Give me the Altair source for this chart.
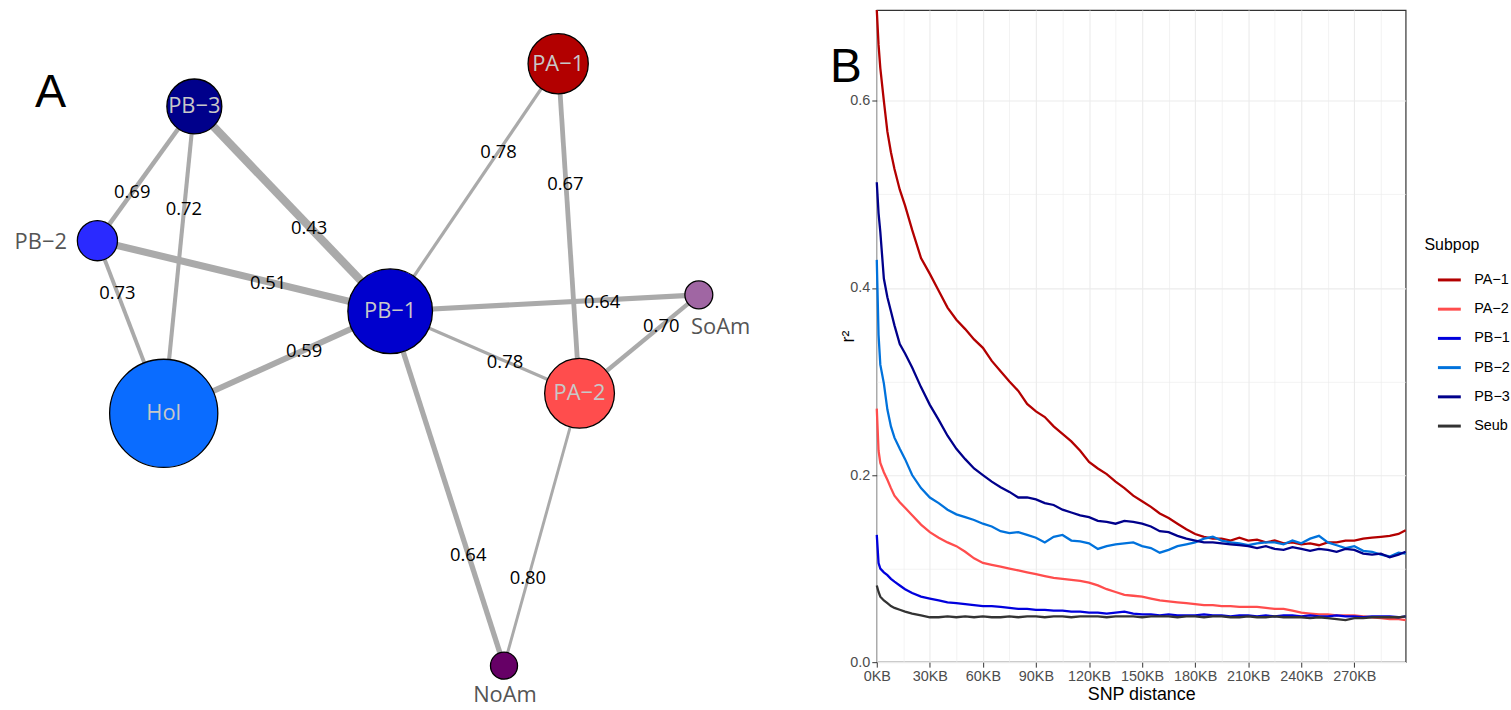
import math
import altair as alt
import pandas as pd

# ---------------- Panel A: LD network between subpopulations ----------------
node_names = ["PA\u22121", "PA\u22122", "PB\u22121", "PB\u22122", "PB\u22123", "Hol", "SoAm", "NoAm"]
node_x = [560.5, 582, 391.5, 97, 194.5, 163.7, 702, 506]
node_y = [62, 393.5, 311, 240, 105, 413.7, 294.5, 667.5]
node_weight = [34.5, 40, 48.5, 23, 31.5, 62, 16, 15.5]
label_x = [560.5, 582, 391.5, 40, 194.5, 163.7, 724, 507]
label_y = [62, 393.5, 311, 241, 105, 413.7, 327, 697]
outside_labels = ["PB\u22122", "SoAm", "NoAm"]
node_colors = ["#B20000", "#FF4D4D", "#0000CD", "#2A2AFF", "#00008B", "#0A6CFF", "#A066A3", "#660066"]

edge_from = ["PB\u22123", "PB\u22123", "PB\u22123", "PB\u22122", "PB\u22122", "Hol", "PA\u22121",
             "PA\u22121", "PB\u22121", "PB\u22121", "PA\u22122", "PB\u22121", "PA\u22122"]
edge_to = ["PB\u22122", "Hol", "PB\u22121", "PB\u22121", "Hol", "PB\u22121", "PB\u22121",
           "PA\u22122", "SoAm", "PA\u22122", "SoAm", "NoAm", "NoAm"]
edge_value = [0.69, 0.72, 0.43, 0.51, 0.73, 0.59, 0.78, 0.67, 0.64, 0.78, 0.70, 0.64, 0.80]
edge_label_x = [132, 184, 310, 268.7, 117, 305, 500.5, 567.8, 604.7, 507, 664.2, 470, 530]
edge_label_y = [191, 208, 227, 282.5, 293, 351, 151, 183.3, 301.5, 362.5, 325.8, 556, 579.5]

# ---------------- Panel B: LD decay ----------------
subpops = ["PA\u22121", "PA\u22122", "PB\u22121", "PB\u22122", "PB\u22123", "Seub"]
line_colors = ["#B30000", "#FF4D4D", "#0000DD", "#0072DC", "#00008B", "#333333"]

dist_kb = [0, 1, 2, 4, 6, 8, 10, 13, 16, 20,
           25, 30, 35, 40, 45, 50, 55, 60, 65, 70,
           75, 80, 85, 90, 95, 100, 105, 110, 115, 120,
           125, 130, 135, 140, 145, 150, 155, 160, 165, 170,
           175, 180, 185, 190, 195, 200, 205, 210, 215, 220,
           225, 230, 235, 240, 245, 250, 255, 260, 265, 270,
           275, 280, 285, 290, 295, 299]

r2_pa1 = [0.697, 0.660, 0.635, 0.600, 0.567, 0.545, 0.527, 0.505, 0.488, 0.462,
          0.432, 0.415, 0.397, 0.379, 0.366, 0.356, 0.345, 0.336, 0.322, 0.311,
          0.300, 0.290, 0.276, 0.268, 0.262, 0.252, 0.244, 0.236, 0.226, 0.214,
          0.207, 0.201, 0.193, 0.186, 0.178, 0.172, 0.166, 0.159, 0.154, 0.148,
          0.142, 0.137, 0.134, 0.132, 0.132, 0.130, 0.133, 0.130, 0.131, 0.128,
          0.130, 0.127, 0.128, 0.126, 0.127, 0.125, 0.128, 0.128, 0.130, 0.130,
          0.132, 0.133, 0.134, 0.135, 0.137, 0.141]
r2_pa2 = [0.271, 0.226, 0.213, 0.203, 0.195, 0.186, 0.178, 0.171, 0.165, 0.157,
          0.147, 0.139, 0.133, 0.128, 0.124, 0.118, 0.111, 0.106, 0.104, 0.102,
          0.100, 0.098, 0.096, 0.094, 0.092, 0.090, 0.089, 0.088, 0.087, 0.085,
          0.082, 0.078, 0.075, 0.072, 0.071, 0.070, 0.068, 0.066, 0.065, 0.064,
          0.063, 0.062, 0.061, 0.061, 0.060, 0.060, 0.059, 0.059, 0.059, 0.058,
          0.057, 0.057, 0.055, 0.053, 0.052, 0.051, 0.051, 0.050, 0.050, 0.050,
          0.049, 0.048, 0.047, 0.046, 0.046, 0.045]
r2_pb1 = [0.136, 0.106, 0.100, 0.096, 0.093, 0.089, 0.086, 0.082, 0.078, 0.074,
          0.070, 0.068, 0.066, 0.064, 0.063, 0.062, 0.061, 0.060, 0.060, 0.059,
          0.058, 0.057, 0.057, 0.056, 0.056, 0.055, 0.055, 0.054, 0.054, 0.053,
          0.053, 0.052, 0.053, 0.054, 0.052, 0.051, 0.051, 0.050, 0.051, 0.050,
          0.050, 0.050, 0.051, 0.050, 0.050, 0.049, 0.050, 0.050, 0.049, 0.050,
          0.049, 0.050, 0.050, 0.049, 0.050, 0.049, 0.049, 0.050, 0.049, 0.049,
          0.048, 0.049, 0.049, 0.049, 0.048, 0.049]
r2_pb2 = [0.430, 0.350, 0.318, 0.298, 0.270, 0.252, 0.240, 0.228, 0.217, 0.200,
          0.186, 0.176, 0.170, 0.163, 0.158, 0.155, 0.152, 0.148, 0.145, 0.140,
          0.138, 0.139, 0.136, 0.133, 0.128, 0.134, 0.136, 0.130, 0.129, 0.127,
          0.121, 0.124, 0.126, 0.127, 0.128, 0.124, 0.122, 0.117, 0.120, 0.124,
          0.126, 0.128, 0.132, 0.134, 0.130, 0.128, 0.127, 0.125, 0.127, 0.128,
          0.128, 0.126, 0.130, 0.127, 0.132, 0.135, 0.128, 0.125, 0.122, 0.124,
          0.119, 0.118, 0.115, 0.113, 0.117, 0.116]
r2_pb3 = [0.513, 0.480, 0.460, 0.410, 0.390, 0.375, 0.360, 0.340, 0.330, 0.315,
          0.294, 0.275, 0.259, 0.242, 0.228, 0.217, 0.207, 0.200, 0.193, 0.187,
          0.182, 0.176, 0.176, 0.174, 0.170, 0.168, 0.163, 0.160, 0.157, 0.155,
          0.151, 0.150, 0.148, 0.151, 0.150, 0.148, 0.145, 0.140, 0.139, 0.135,
          0.132, 0.130, 0.128, 0.128, 0.127, 0.126, 0.125, 0.124, 0.122, 0.124,
          0.121, 0.120, 0.123, 0.121, 0.119, 0.121, 0.120, 0.118, 0.121, 0.120,
          0.116, 0.115, 0.116, 0.112, 0.115, 0.118]
r2_seub = [0.082, 0.075, 0.070, 0.066, 0.063, 0.060, 0.058, 0.056, 0.054, 0.052,
           0.050, 0.048, 0.048, 0.049, 0.048, 0.049, 0.048, 0.049, 0.048, 0.048,
           0.049, 0.048, 0.049, 0.049, 0.048, 0.049, 0.049, 0.048, 0.049, 0.049,
           0.049, 0.048, 0.049, 0.049, 0.049, 0.048, 0.049, 0.049, 0.049, 0.048,
           0.049, 0.049, 0.048, 0.049, 0.049, 0.048, 0.048, 0.049, 0.048, 0.048,
           0.049, 0.048, 0.048, 0.048, 0.047, 0.048, 0.047, 0.046, 0.045, 0.047,
           0.047, 0.048, 0.048, 0.048, 0.048, 0.049]

# ---------------- tables ----------------
nodes = pd.DataFrame({
    "name": node_names, "x": node_x, "y": node_y, "weight": node_weight,
    "lx": label_x, "ly": label_y,
})
nodes["outside"] = nodes["name"].isin(outside_labels)

pos = nodes.set_index("name")
edges = pd.DataFrame({"src": edge_from, "dst": edge_to, "value": edge_value,
                      "lx": edge_label_x, "ly": edge_label_y})
edges["x"] = edges["src"].map(pos["x"])
edges["y"] = edges["src"].map(pos["y"])
edges["x2"] = edges["dst"].map(pos["x"])
edges["y2"] = edges["dst"].map(pos["y"])
edges["label"] = edges["value"].map(lambda v: f"{v:.2f}")

series = {"PA\u22121": r2_pa1, "PA\u22122": r2_pa2, "PB\u22121": r2_pb1,
          "PB\u22122": r2_pb2, "PB\u22123": r2_pb3, "Seub": r2_seub}
ld = pd.concat(
    [pd.DataFrame({"subpop": k, "kb": dist_kb, "r2": v}) for k, v in series.items()],
    ignore_index=True,
)

# ---------------- Panel A chart ----------------
W_A, H_A = 800, 694
sx = alt.Scale(domain=[0, 800], nice=False, zero=False)
sy = alt.Scale(domain=[8, 702], nice=False, zero=False, reverse=True)
net_font = "Open Sans"

edge_rules = alt.Chart(edges).mark_rule(color="#AAAAAA", strokeCap="butt").encode(
    x=alt.X("x:Q", scale=sx, axis=None),
    y=alt.Y("y:Q", scale=sy, axis=None),
    x2="x2:Q",
    y2="y2:Q",
    strokeWidth=alt.StrokeWidth("value:Q", scale=alt.Scale(domain=[0, 1], range=[14.6, 0]),
                                legend=None),
)
edge_text = alt.Chart(edges).mark_text(font=net_font, fontSize=18.5, color="black").encode(
    x=alt.X("lx:Q", scale=sx, axis=None),
    y=alt.Y("ly:Q", scale=sy, axis=None),
    text="label:N",
)
node_marks = alt.Chart(nodes).mark_circle(opacity=1, stroke="black", strokeWidth=1.3).encode(
    x=alt.X("x:Q", scale=sx, axis=None),
    y=alt.Y("y:Q", scale=sy, axis=None),
    color=alt.Color("name:N", scale=alt.Scale(domain=node_names, range=node_colors), legend=None),
    size=alt.Size("weight:Q",
                  scale=alt.Scale(type="pow", exponent=2, domain=[0, 62],
                                  range=[0, math.pi * 61.4 ** 2]),
                  legend=None),
)
inner_labels = alt.Chart(nodes).transform_filter("!datum.outside").mark_text(
    font=net_font, fontSize=22, color="#C8C8C8"
).encode(
    x=alt.X("lx:Q", scale=sx, axis=None),
    y=alt.Y("ly:Q", scale=sy, axis=None),
    text="name:N",
)
outer_labels = alt.Chart(nodes).transform_filter("datum.outside").mark_text(
    font=net_font, fontSize=22, color="#555555"
).encode(
    x=alt.X("lx:Q", scale=sx, axis=None),
    y=alt.Y("ly:Q", scale=sy, axis=None),
    text="name:N",
)
tag_a = alt.Chart(pd.DataFrame({"t": ["A"]})).mark_text(
    font="Liberation Sans", fontSize=47, color="black"
).encode(x=alt.value(50), y=alt.value(84), text="t:N")

panel_a = alt.layer(edge_rules, edge_text, node_marks, inner_labels, outer_labels, tag_a).properties(
    width=W_A, height=H_A, view=alt.ViewBackground(stroke="transparent")
)

# ---------------- Panel B chart ----------------
x_major = "datum.value % 30 == 0"
y_major = "round(datum.value * 10) % 2 == 0"

lines = alt.Chart(ld).mark_line(strokeWidth=2.3).encode(
    x=alt.X(
        "kb:Q",
        scale=alt.Scale(domain=[0, 299], nice=False, zero=False),
        axis=alt.Axis(
            values=[0, 15, 30, 45, 60, 75, 90, 105, 120, 135, 150, 165, 180, 195,
                    210, 225, 240, 255, 270, 285],
            labelExpr=f"{x_major} ? datum.value + 'KB' : ''",
            labelFlush=False,
            tickOpacity={"condition": {"test": x_major, "value": 1}, "value": 0},
            gridWidth={"condition": {"test": x_major, "value": 1.1}, "value": 0.6},
            title="SNP distance",
            titlePadding=3,
        ),
    ),
    y=alt.Y(
        "r2:Q",
        scale=alt.Scale(domain=[0, 0.697], nice=False, zero=False),
        axis=alt.Axis(
            values=[0, 0.1, 0.2, 0.3, 0.4, 0.5, 0.6],
            labelExpr=f"{y_major} ? format(datum.value, '.1f') : ''",
            labelFlush=False,
            tickOpacity={"condition": {"test": y_major, "value": 1}, "value": 0},
            gridWidth={"condition": {"test": y_major, "value": 1.1}, "value": 0.6},
            title="r\u00b2",
            titleX=-28,
            titleBaseline="middle",
        ),
    ),
    color=alt.Color(
        "subpop:N",
        scale=alt.Scale(domain=subpops, range=line_colors),
        legend=alt.Legend(
            title="Subpop",
            orient="none",
            legendX=551,
            legendY=228.5,
            symbolType="stroke",
            symbolSize=529,
            symbolStrokeWidth=3,
            symbolOffset=12,
            rowPadding=9.4,
            labelOffset=12,
            titlePadding=14,
        ),
    ),
)
tag_b = alt.Chart(pd.DataFrame({"t": ["B"]})).mark_text(
    font="Liberation Sans", fontSize=48, color="black"
).encode(x=alt.value(-31), y=alt.value(58), text="t:N")

panel_b = alt.layer(lines, tag_b).properties(width=532, height=656)

chart = (
    alt.hconcat(panel_a, panel_b, spacing=32)
    .resolve_scale(color="independent", size="independent", strokeWidth="independent")
    .resolve_legend(color="independent")
    .properties(padding={"left": 0, "top": 2, "right": 0, "bottom": 0})
    .configure(font="Liberation Sans")
    .configure_view(stroke="#333333", strokeWidth=1.2)
    .configure_axis(
        domain=False,
        gridColor="#EBEBEB",
        tickColor="#333333",
        tickSize=5,
        labelColor="#4D4D4D",
        labelFontSize=14.5,
        labelPadding=2,
        titleColor="black",
        titleFontSize=18,
        titleFontWeight="normal",
    )
    .configure_legend(
        titleFontSize=16,
        titleFontWeight="normal",
        titleColor="black",
        labelFontSize=14.5,
        labelColor="black",
    )
)

chart.save("out.html", embed_options={"renderer": "svg", "actions": False})
